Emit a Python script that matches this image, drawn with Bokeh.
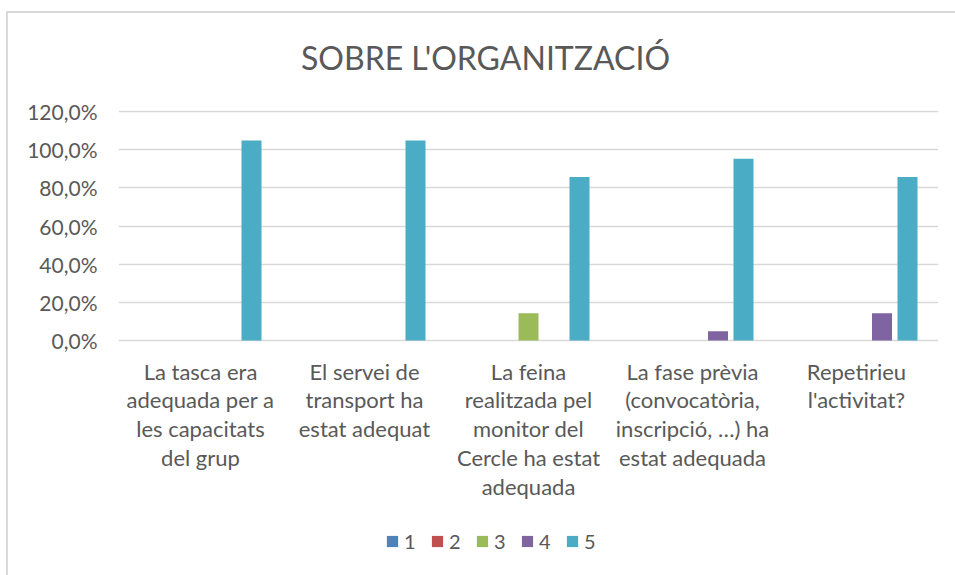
from bokeh.plotting import figure
from bokeh.layouts import column
from bokeh.models import Range1d, FixedTicker, Label, Legend, LegendItem
from bokeh.embed import file_html
from bokeh.resources import INLINE

categories = [
    "La tasca era\nadequada per a\nles capacitats\ndel grup",
    "El servei de\ntransport ha\nestat adequat",
    "La feina\nrealitzada pel\nmonitor del\nCercle ha estat\nadequada",
    "La fase prèvia\n(convocatòria,\ninscripció, …) ha\nestat adequada",
    "Repetirieu\nl'activitat?",
]
series_names = ["1", "2", "3", "4", "5"]
s1 = [0.0, 0.0, 0.0, 0.0, 0.0]
s2 = [0.0, 0.0, 0.0, 0.0, 0.0]
s3 = [0.0, 0.0, 0.143, 0.0, 0.0]
s4 = [0.0, 0.0, 0.0, 0.048, 0.143]
s5 = [1.048, 1.048, 0.857, 0.952, 0.857]
series_values = [s1, s2, s3, s4, s5]
colors = ["#4F81BD", "#C0504D", "#9BBB59", "#8064A2", "#4BACC6"]
y_ticks = [0.0, 0.2, 0.4, 0.6, 0.8, 1.0, 1.2]
y_tick_labels = ["0,0%", "20,0%", "40,0%", "60,0%", "80,0%", "100,0%", "120,0%"]
title_text = "SOBRE L'ORGANITZACIÓ"

FONT = "Lato"
TXT = "#595959"
GRID = "#D9D9D9"


def strip(height):
    f = figure(width=947, height=height, output_backend="svg", toolbar_location=None,
               x_range=Range1d(0, 1), y_range=Range1d(0, 1),
               x_axis_type=None, y_axis_type=None,
               min_border_left=0, min_border_right=0, min_border_top=0, min_border_bottom=0)
    f.outline_line_color = None
    f.xgrid.grid_line_color = None
    f.ygrid.grid_line_color = None
    f.background_fill_color = "white"
    f.border_fill_color = "white"
    return f


# title strip
t = strip(80)
t.add_layout(Label(x=367, y=36, x_units="screen", y_units="screen", text=title_text,
                   text_font=FONT, text_font_size="32px", text_color=TXT,
                   text_align="center", text_baseline="alphabetic"))

# main chart
p = figure(width=947, height=425, output_backend="svg", toolbar_location=None,
           x_range=Range1d(0, 5), y_range=Range1d(-0.0157, 1.2157),
           min_border_left=110, min_border_right=17, min_border_top=15,
           min_border_bottom=175)
p.outline_line_color = None
p.background_fill_color = "white"
p.border_fill_color = "white"

slot = 25.5 / 164
bw = 20 / 164
for i, (name, vals, col) in enumerate(zip(series_names, series_values, colors)):
    xs = [k + 0.5 + (i - 2) * slot for k in range(len(categories))]
    p.vbar(x=xs, top=vals, bottom=0, width=bw, fill_color=col, line_color=None)

p.xaxis.ticker = FixedTicker(ticks=[k + 0.5 for k in range(len(categories))])
p.xaxis.major_label_overrides = {k + 0.5: c for k, c in enumerate(categories)}
p.xaxis.axis_line_color = None
p.xaxis.major_tick_line_color = None
p.xaxis.minor_tick_line_color = None
p.xaxis.major_label_text_font = FONT
p.xaxis.major_label_text_font_size = "22px"
p.xaxis.major_label_text_color = TXT
p.xaxis.major_label_text_line_height = 1.07
p.xaxis.major_label_standoff = 8

p.yaxis.ticker = FixedTicker(ticks=y_ticks)
p.yaxis.major_label_overrides = {tk: lb for tk, lb in zip(y_ticks, y_tick_labels)}
p.yaxis.axis_line_color = None
p.yaxis.major_tick_line_color = None
p.yaxis.minor_tick_line_color = None
p.yaxis.major_label_text_font = FONT
p.yaxis.major_label_text_font_size = "21px"
p.yaxis.major_label_text_color = TXT
p.yaxis.major_label_standoff = 15

p.xgrid.grid_line_color = None
p.ygrid.ticker = FixedTicker(ticks=y_ticks)
p.ygrid.grid_line_color = GRID
p.ygrid.grid_line_width = 1.5

# legend strip
q = strip(57)
items = []
for name, col in zip(series_names, colors):
    r = q.vbar(x=[0.5], top=[-1], bottom=[-1], width=0.1, fill_color=col, line_color=None)
    items.append(LegendItem(label=name, renderers=[r]))
legend = Legend(items=items, orientation="horizontal", location=(267, 22),
                glyph_width=14, glyph_height=14, label_standoff=5, label_width=12,
                spacing=14, padding=0, margin=0,
                label_text_font=FONT, label_text_font_size="20px", label_text_color=TXT,
                border_line_color=None, background_fill_alpha=0)
q.add_layout(legend, "center")

layout = column(t, p, q, spacing=0)
layout.styles = {"border-top": "2px solid #D9D9D9", "border-left": "2px solid #D9D9D9",
                 "margin-left": "6px", "margin-top": "11px"}

open("out.html", "w").write(file_html(layout, INLINE))
